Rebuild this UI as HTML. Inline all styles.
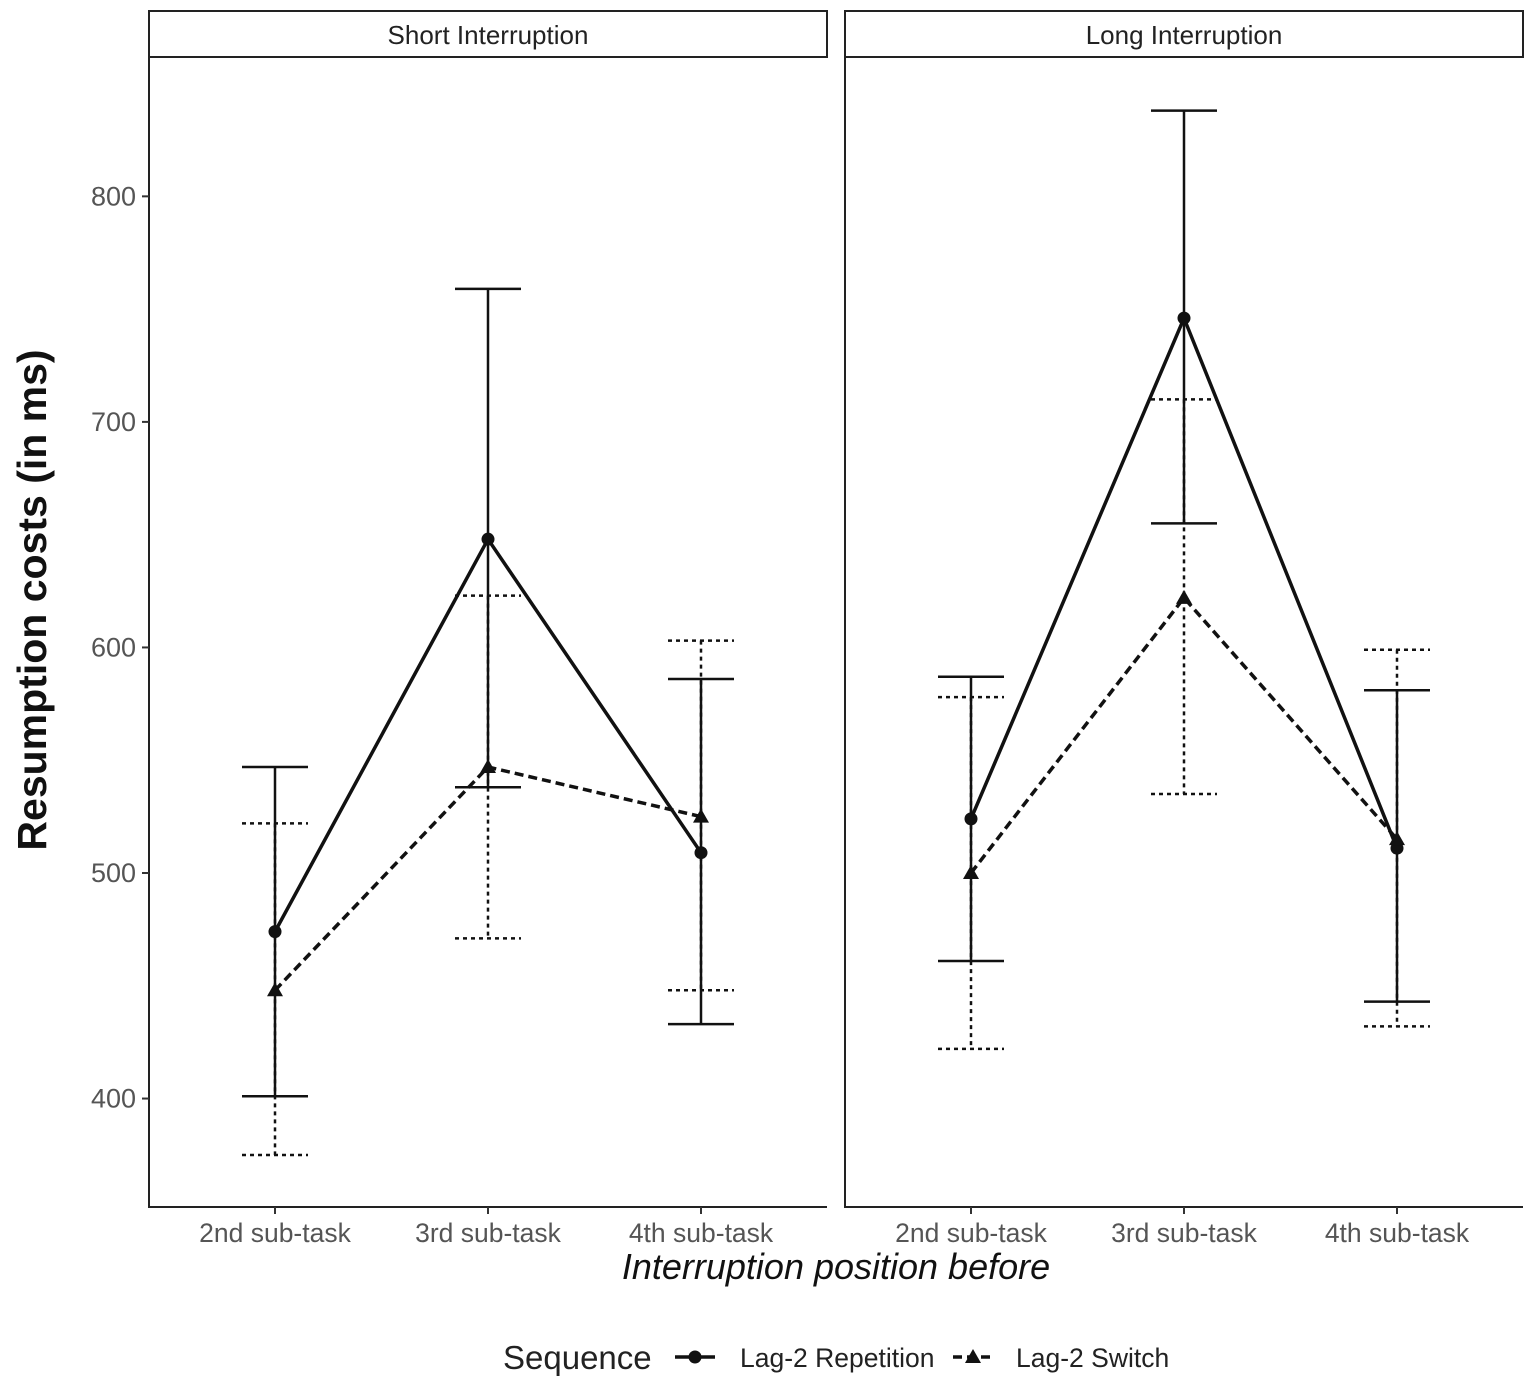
<!DOCTYPE html>
<html><head><meta charset="utf-8"><style>
body{margin:0;background:#fff}
svg text{font-family:"Liberation Sans",Arial,sans-serif}
</style></head><body>
<svg id="chart" width="1535" height="1387" viewBox="0 0 1535 1387" xmlns="http://www.w3.org/2000/svg">
<g id="root"></g>
</svg>
<script>
const panels = ["Short Interruption", "Long Interruption"];
const categories = ["2nd sub-task", "3rd sub-task", "4th sub-task"];
const yTicks = [400, 500, 600, 700, 800];
// [panel][category]
const repMean = [[474, 648, 509], [524, 746, 511]];
const repHi   = [[547, 759, 586], [587, 838, 581]];
const repLo   = [[401, 538, 433], [461, 655, 443]];
const swMean  = [[448, 547, 525], [500, 622, 515]];
const swHi    = [[522, 623, 603], [578, 710, 599]];
const swLo    = [[375, 471, 448], [422, 535, 432]];

const NS = "http://www.w3.org/2000/svg";
const rootG = document.getElementById("root");
function el(tag, attrs, parent) {
  const e = document.createElementNS(NS, tag);
  for (const k in attrs) e.setAttribute(k, attrs[k]);
  (parent || rootG).appendChild(e);
  return e;
}
function yScale(v) { return 873 - (v - 500) * 2.2555; }
const panelX = [149, 845], panelW = 678, plotTop = 58, plotBottom = 1207;
function xScale(p, i) { return panelX[p] + 126 + i * 213; }

for (let p = 0; p < 2; p++) {
  const g = el("g", {});
  
  
  const strip = el("rect", {x: panelX[p], y: 11, width: panelW, height: 46, fill: "#fff", stroke: "#222", "stroke-width": 2}, g);
  
  
  const st = el("text", {x: panelX[p] + panelW / 2, y: 44, "text-anchor": "middle", "font-size": 26, fill: "#222"}, g);
  st.textContent = panels[p];
  
  
  const ax = el("path", {d: `M${panelX[p]} ${plotTop} V${plotBottom} H${panelX[p] + panelW}`, fill: "none", stroke: "#222", "stroke-width": 2}, g);
  
  
  categories.forEach((c, i) => {
    const x = xScale(p, i);
    el("line", {x1: x, x2: x, y1: plotBottom, y2: plotBottom + 7, stroke: "#333", "stroke-width": 2}, g);
    const t = el("text", {x: x, y: 1242, "text-anchor": "middle", "font-size": 26.5, fill: "#555"}, g);
    t.textContent = c;
    
    
  });
  for (let i = 0; i < 3; i++) {
    const x = xScale(p, i);
    [[repHi, repLo, null, 2.5], [swHi, swLo, "4 4", 2.5]].forEach(([hi, lo, dash, w]) => {
      const a = {stroke: "#111", "stroke-width": w, fill: "none"};
      if (dash) a["stroke-dasharray"] = dash;
      const eb = el("path", Object.assign({d: `M${x} ${yScale(hi[p][i])} V${yScale(lo[p][i])} M${x - 33} ${yScale(hi[p][i])} h66 M${x - 33} ${yScale(lo[p][i])} h66`}, a), g);
      
      
    });
  }
  const rl = el("polyline", {points: repMean[p].map((v, i) => xScale(p, i) + "," + yScale(v)).join(" "), fill: "none", stroke: "#111", "stroke-width": 3.5}, g);
  
  
  const sl = el("polyline", {points: swMean[p].map((v, i) => xScale(p, i) + "," + yScale(v)).join(" "), fill: "none", stroke: "#111", "stroke-width": 3.5, "stroke-dasharray": "9 5"}, g);
  
  
  for (let i = 0; i < 3; i++) {
    const x = xScale(p, i);
    const c = el("circle", {cx: x, cy: yScale(repMean[p][i]), r: 6.5, fill: "#111"}, g);
    
    
    const y = yScale(swMean[p][i]);
    const tr = el("polygon", {points: `${x},${y - 8} ${x - 8},${y + 6} ${x + 8},${y + 6}`, fill: "#111"}, g);
    
    
  }
}
yTicks.forEach(v => {
  const y = yScale(v);
  el("line", {x1: 142, x2: 149, y1: y, y2: y, stroke: "#333", "stroke-width": 2});
  const t = el("text", {x: 136, y: y + 9, "text-anchor": "end", "font-size": 27, fill: "#555"});
  t.textContent = v;
  
  
});
const yt = el("text", {x: 0, y: 0, transform: "translate(46,600) rotate(-90)", "text-anchor": "middle", "font-size": 41, "font-weight": "bold", fill: "#111"});
yt.textContent = "Resumption costs (in ms)";


const xt = el("text", {x: 836, y: 1279, "text-anchor": "middle", "font-size": 36, "font-style": "italic", fill: "#111"});
xt.textContent = "Interruption position before";


const lg = el("g", {});


const lt = el("text", {x: 503, y: 1369, "font-size": 33, fill: "#222"}, lg);
lt.textContent = "Sequence";


el("line", {x1: 675, x2: 715, y1: 1357, y2: 1357, stroke: "#111", "stroke-width": 3.5}, lg);
el("circle", {cx: 695, cy: 1357, r: 6.5, fill: "#111"}, lg);
const l1 = el("text", {x: 740, y: 1367, "font-size": 26.5, fill: "#222"}, lg);
l1.textContent = "Lag-2 Repetition";


el("line", {x1: 953, x2: 993, y1: 1357, y2: 1357, stroke: "#111", "stroke-width": 3.5, "stroke-dasharray": "9 5"}, lg);
el("polygon", {points: "973,1349 965,1363 981,1363", fill: "#111"}, lg);
const l2 = el("text", {x: 1016, y: 1367, "font-size": 26.5, fill: "#222"}, lg);
l2.textContent = "Lag-2 Switch";


</script>
</body></html>
